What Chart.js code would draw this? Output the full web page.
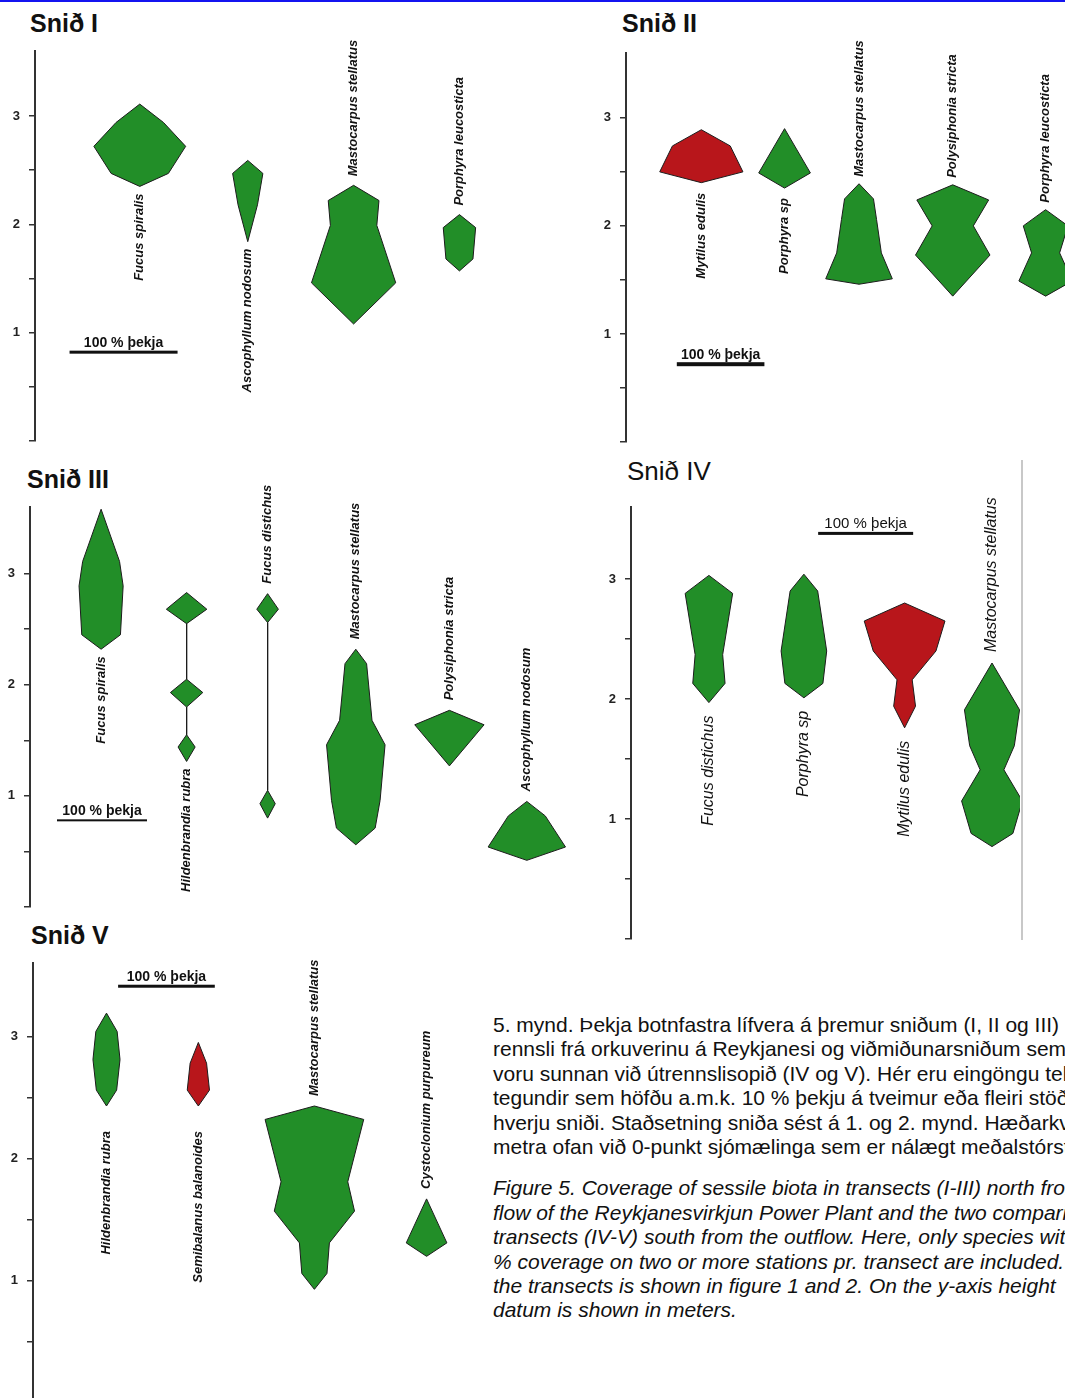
<!DOCTYPE html>
<html>
<head>
<meta charset="utf-8">
<script src="https://cdn.jsdelivr.net/npm/chart.js@4.4.1/dist/chart.umd.min.js"></script>
<style>
  body { margin: 0; width: 1065px; height: 1398px; overflow: hidden; position: relative; background: #fff;
         font-family: 'Liberation Sans', Arial, sans-serif; color: #111; }
  canvas { position: absolute; }
  .title { position: absolute; font-size: 25px; font-weight: bold; line-height: 25px; white-space: nowrap; }
  #topline { position: absolute; left: 0; top: 0; width: 1065px; height: 2px; background: #1414f0; }
  #sep { position: absolute; left: 1021px; top: 460px; width: 2px; height: 480px; background: #c8c8c8; }
  #cap { position: absolute; left: 493px; top: 1013px; width: 800px; font-size: 21px; line-height: 24.4px; white-space: nowrap; }
  #cap p { margin: 0 0 17px 0; }
</style>
</head>
<body>
<div id="topline"></div>
<div id="sep"></div>
<div class="title" style="left:30px;top:11px">Snið I</div>
<div class="title" style="left:622px;top:11px">Snið II</div>
<div class="title" style="left:27px;top:467px">Snið III</div>
<div class="title" style="left:627px;top:459px;font-weight:normal;font-size:26px">Snið IV</div>
<div class="title" style="left:31px;top:923px">Snið V</div>
<canvas id="c1"></canvas>
<canvas id="c2"></canvas>
<canvas id="c3"></canvas>
<canvas id="c4"></canvas>
<canvas id="c5"></canvas>
<div id="cap">
<p>5. mynd. Þekja botnfastra lífvera á þremur sniðum (I, II og III)<br>
rennsli frá orkuverinu á Reykjanesi og viðmiðunarsniðum sem<br>
voru sunnan við útrennslisopið (IV og V). Hér eru eingöngu teknar<br>
tegundir sem höfðu a.m.k. 10 % þekju á tveimur eða fleiri stöðvum<br>
hverju sniði. Staðsetning sniða sést á 1. og 2. mynd. Hæðarkvarði<br>
metra ofan við 0-punkt sjómælinga sem er nálægt meðalstórstraumsfjöru.</p>
<p style="font-style:italic">Figure 5. Coverage of sessile biota in transects (I-III) north from<br>
flow of the Reykjanesvirkjun Power Plant and the two comparison<br>
transects (IV-V) south from the outflow. Here, only species with<br>
% coverage on two or more stations pr. transect are included.<br>
the transects is shown in figure 1 and 2. On the y-axis height<br>
datum is shown in meters.</p>
</div>
<script>
// species per transect, x centre (in % cover units from the axis),
// heights (m) of the stations and % cover at each height
const s1Species = ['Fucus spiralis', 'Ascophyllum nodosum', 'Mastocarpus stellatus', 'Porphyra leucosticta'];
const s1Pos = [97, 197, 295, 393];
const s1Heights = [
  [2.35, 2.47, 2.72, 2.94, 3.11],
  [1.84, 2.18, 2.47, 2.59],
  [1.08, 1.46, 1.99, 2.22, 2.36],
  [1.57, 1.68, 1.97, 2.09]
];
const s1Cover = [
  [0, 53, 85, 44, 0],
  [0, 18, 28, 0],
  [0, 78, 43, 47, 0],
  [0, 25, 30, 0]
];
const s1Side = ['below', 'below', 'above', 'above'];

const s2Species = ['Mytilus edulis', 'Porphyra sp', 'Mastocarpus stellatus', 'Polysiphonia stricta', 'Porphyra leucosticta'];
const s2Pos = [86, 181, 266, 373, 479];
const s2Heights = [
  [2.40, 2.50, 2.74, 2.89],
  [2.35, 2.49, 2.90],
  [1.46, 1.51, 1.75, 2.06, 2.25, 2.39],
  [1.35, 1.73, 2.00, 2.24, 2.38],
  [1.35, 1.49, 1.75, 2.00, 2.15]
];
const s2Cover = [
  [0, 95, 66, 0],
  [0, 59, 0],
  [0, 76, 51, 40, 33, 0],
  [0, 85, 47, 82, 0],
  [0, 61, 32, 51, 0]
];
const s2Side = ['below', 'below', 'above', 'above', 'above'];

const s3Species = ['Fucus spiralis', 'Hildenbrandia rubra', 'Fucus distichus', 'Mastocarpus stellatus', 'Polysiphonia stricta', 'Ascophyllum nodosum'];
const s3Pos = [79, 174, 264, 362, 466, 552];
const s3Heights = [
  [2.32, 2.45, 2.89, 3.11, 3.58],
  [1.31, 1.44, 1.55, 1.80, 1.93, 2.05, 2.55, 2.68, 2.83],
  [0.80, 0.93, 1.05, 2.56, 2.68, 2.82],
  [0.56, 0.71, 0.96, 1.46, 1.68, 2.19, 2.32],
  [1.27, 1.64, 1.77],
  [0.42, 0.54, 0.82, 0.95]
];
const s3Cover = [
  [0, 43, 49, 41, 0],
  [0, 19, 0, 0, 36, 0, 0, 45, 0],
  [0, 17, 0, 0, 24, 0],
  [0, 43, 54, 65, 36, 24, 0],
  [0, 77, 0],
  [0, 86, 41, 0]
];
const s3Side = ['below', 'below', 'above', 'above', 'above', 'above'];

const s4Species = ['Fucus distichus', 'Porphyra sp', 'Mytilus edulis', 'Mastocarpus stellatus'];
const s4Pos = [82, 182, 288, 380];
const s4Heights = [
  [1.97, 2.13, 2.37, 2.88, 3.03],
  [2.01, 2.13, 2.40, 2.90, 3.04],
  [1.76, 1.94, 2.16, 2.40, 2.65, 2.80],
  [0.77, 0.88, 1.15, 1.41, 1.61, 1.91, 2.30]
];
const s4Cover = [
  [0, 34, 29, 50, 0],
  [0, 40, 48, 29, 0],
  [0, 23, 16, 66, 85, 0],
  [0, 44, 64, 25, 47, 58, 0]
];
const s4Side = ['below', 'below', 'below', 'above'];

const s5Species = ['Hildenbrandia rubra', 'Semibalanus balanoides', 'Mastocarpus stellatus', 'Cystoclonium purpureum'];
const s5Pos = [76, 171, 291, 407];
const s5Heights = [
  [2.43, 2.56, 2.81, 3.04, 3.19],
  [2.43, 2.56, 2.78, 2.95],
  [0.93, 1.06, 1.31, 1.57, 1.81, 2.32, 2.43],
  [1.20, 1.31, 1.67]
];
const s5Cover = [
  [0, 21, 28, 22, 0],
  [0, 23, 17, 0],
  [0, 26, 31, 83, 69, 102, 0],
  [0, 42, 0]
];
const s5Side = ['below', 'below', 'above', 'above'];

const yTicks = [1, 2, 3];
const animals = ['Mytilus edulis', 'Semibalanus balanoides'];
const barText = '100 % þekja';

const green = 'rgb(34,142,40)';
const red = 'rgb(184,22,27)';
const FONT = "'Liberation Sans', Arial, sans-serif";

Chart.defaults.font.family = FONT;

// where each panel sits on the page (axis x, top/bottom of the 0-3.6 m axis)
const panels = [
  {id: 'c1', species: s1Species, pos: s1Pos, heights: s1Heights, cover: s1Cover, sides: s1Side,
   axisX: 35, top: 51, bottom: 441, right: 600, per100: 108, gapBelow: 7, gapAbove: 9, bar: [32, 0.82], barWidth: 3},
  {id: 'c2', species: s2Species, pos: s2Pos, heights: s2Heights, cover: s2Cover, sides: s2Side,
   axisX: 626, top: 53, bottom: 442, right: 1065, per100: 87.6, gapBelow: 10, gapAbove: 7, bar: [58, 0.72], barWidth: 4},
  {id: 'c3', species: s3Species, pos: s3Pos, heights: s3Heights, cover: s3Cover, sides: s3Side,
   axisX: 30, top: 507, bottom: 907, right: 590, per100: 90, gapBelow: 7, gapAbove: 10, bar: [30, 0.78], barWidth: 2},
  {id: 'c4', species: s4Species, pos: s4Pos, heights: s4Heights, cover: s4Cover, sides: s4Side,
   axisX: 631, top: 507, bottom: 939, right: 1020, per100: 95, gapBelow: 13, gapAbove: 11, bar: [197, 3.38], barWidth: 3,
   labelFont: 'italic 16px ' + FONT, barFont: '15px ' + FONT},
  {id: 'c5', species: s5Species, pos: s5Pos, heights: s5Heights, cover: s5Cover, sides: s5Side,
   axisX: 33, top: 963, bottom: 1403, right: 470, per100: 96.7, gapBelow: 25, gapAbove: 10, bar: [88, 3.41], barWidth: 3}
];

// closed outline of a kite: up the right edge, down the left edge
function kitePoints(centre, heights, cover) {
  const right = heights.map((h, i) => ({x: centre + cover[i] / 2, y: h}));
  const left = heights.map((h, i) => ({x: centre - cover[i] / 2, y: h})).reverse();
  return right.concat(left);
}

// species names (rotated) and the 100 % scale bar
const kiteDeco = {
  id: 'kiteDeco',
  afterDatasetsDraw(chart, args, o) {
    const {ctx, scales: {x, y}} = chart;
    ctx.save();
    ctx.fillStyle = '#111';
    ctx.font = o.labelFont;
    ctx.textBaseline = 'middle';
    o.species.forEach((name, i) => {
      const hs = o.heights[i];
      const cx = x.getPixelForValue(o.pos[i]);
      ctx.save();
      if (o.sides[i] === 'above') {
        ctx.translate(cx, y.getPixelForValue(Math.max(...hs)) - o.gapAbove);
        ctx.textAlign = 'left';
      } else {
        ctx.translate(cx, y.getPixelForValue(Math.min(...hs)) + o.gapBelow);
        ctx.textAlign = 'right';
      }
      ctx.rotate(-Math.PI / 2);
      ctx.fillText(name, 0, 0);
      ctx.restore();
    });
    const x0 = x.getPixelForValue(o.bar[0]);
    const x1 = x.getPixelForValue(o.bar[0] + 100);
    const by = y.getPixelForValue(o.bar[1]);
    ctx.fillRect(x0, by - o.barWidth / 2, x1 - x0, o.barWidth);
    ctx.font = o.barFont;
    ctx.textAlign = 'center';
    ctx.textBaseline = 'alphabetic';
    ctx.fillText(barText, (x0 + x1) / 2, by - 5);
    ctx.restore();
  }
};

panels.forEach(p => {
  const cv = document.getElementById(p.id);
  const left = p.axisX - 40;
  const width = p.right - left;
  const height = p.bottom - p.top + 60;
  cv.width = width;
  cv.height = height;
  cv.style.left = left + 'px';
  cv.style.top = (p.top - 30) + 'px';

  new Chart(cv, {
    type: 'line',
    data: {
      datasets: p.species.map((name, i) => ({
        label: name,
        data: kitePoints(p.pos[i], p.heights[i], p.cover[i]),
        backgroundColor: animals.includes(name) ? red : green,
        borderColor: '#1c1c1c',
        borderWidth: 1,
        fill: 'shape',
        pointRadius: 0,
        tension: 0
      }))
    },
    options: {
      responsive: false,
      animation: false,
      devicePixelRatio: 1,
      layout: {padding: {top: 30, bottom: 30, left: 0, right: 0}},
      plugins: {
        legend: {display: false},
        tooltip: {enabled: false},
        kiteDeco: {
          species: p.species, pos: p.pos, heights: p.heights, sides: p.sides,
          gapBelow: p.gapBelow, gapAbove: p.gapAbove, bar: p.bar, barWidth: p.barWidth,
          labelFont: p.labelFont || ('italic bold 13px ' + FONT),
          barFont: p.barFont || ('bold 14px ' + FONT)
        }
      },
      scales: {
        x: {
          type: 'linear',
          display: false,
          min: 0,
          max: (p.right - p.axisX) * 100 / p.per100
        },
        y: {
          type: 'linear',
          min: 0,
          max: 3.6,
          afterFit: scale => { scale.width = 40; },
          afterBuildTicks: scale => { scale.ticks = scale.ticks.filter(t => t.value <= 3.001); },
          ticks: {
            stepSize: 0.5,
            padding: 9,
            color: '#222',
            font: {size: 13, weight: 'bold'},
            callback: v => yTicks.includes(v) ? String(v) : ''
          },
          grid: {drawOnChartArea: false, tickLength: 6, color: '#333', lineWidth: 1.5},
          border: {display: true, color: '#333', width: 2}
        }
      }
    },
    plugins: [kiteDeco]
  });
});
</script>
</body>
</html>
